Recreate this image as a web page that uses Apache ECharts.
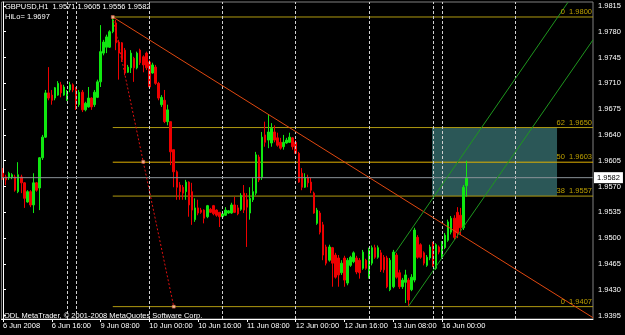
<!DOCTYPE html>
<html><head><meta charset="utf-8">
<script src="https://cdn.jsdelivr.net/npm/echarts@6/dist/echarts.min.js"></script>
<style>html,body{margin:0;padding:0;background:#000;}#c{width:625px;height:335px;}</style>
</head><body><div id="c"></div>
<script>
// ---- categories (H1 bars) ----
const days = ['6 Jun','9 Jun','10 Jun','11 Jun','12 Jun','13 Jun','16 Jun','17 Jun','18 Jun'];
const categories = [];
days.forEach(d => { for (let h = 0; h < 24; h++) categories.push(d + ' ' + String(h).padStart(2,'0') + ':00'); });
categories.length = 194;

// ---- x tick labels ----
const xTickIndex = [0, 16, 32, 48, 64, 80, 96, 112, 128, 144];
const xTickText = ['6 Jun 2008','6 Jun 16:00','9 Jun 08:00','10 Jun 00:00','10 Jun 16:00','11 Jun 08:00','12 Jun 00:00','12 Jun 16:00','13 Jun 08:00','16 Jun 00:00'];
// ---- y tick labels ----
const yTicks = [1.9815,1.9780,1.9745,1.9710,1.9675,1.9640,1.9605,1.9570,1.9535,1.9500,1.9465,1.9430,1.9395];

// ---- candles [open, close, low, high] ----
const ohlc = [
[1.9588,1.9582,1.9579,1.9595],[1.9583,1.9579,1.9572,1.9586],[1.9582,1.9588,1.9579,1.9590],[1.9583,1.9586,1.9580,1.9588],
[1.9583,1.9565,1.9563,1.9586],[1.9563,1.9586,1.9561,1.9603],[1.9583,1.9575,1.9561,1.9586],[1.9575,1.9554,1.9541,1.9576],
[1.9549,1.9563,1.9548,1.9565],[1.9563,1.9545,1.9542,1.9565],[1.9545,1.9575,1.9534,1.9588],[1.9575,1.9565,1.9563,1.9576],
[1.9568,1.9609,1.9538,1.9610],[1.9609,1.9637,1.9606,1.9640],[1.9637,1.9697,1.9636,1.9701],[1.9697,1.9690,1.9687,1.9732],
[1.9694,1.9687,1.9681,1.9701],[1.9690,1.9704,1.9687,1.9705],[1.9694,1.9710,1.9693,1.9713],[1.9708,1.9697,1.9691,1.9712],
[1.9694,1.9705,1.9693,1.9708],[1.9687,1.9698,1.9686,1.9701],[1.9701,1.9708,1.9698,1.9712],[1.9708,1.9701,1.9698,1.9710],
[1.9704,1.9681,1.9674,1.9705],[1.9681,1.9698,1.9678,1.9701],[1.9698,1.9674,1.9671,1.9701],[1.9674,1.9683,1.9672,1.9685],
[1.9678,1.9690,1.9677,1.9705],[1.9690,1.9678,1.9674,1.9691],[1.9681,1.9698,1.9678,1.9701],[1.9691,1.9712,1.9690,1.9715],
[1.9712,1.9753,1.9705,1.9789],[1.9751,1.9766,1.9748,1.9769],[1.9759,1.9773,1.9751,1.9776],[1.9759,1.9780,1.9758,1.9782],
[1.9780,1.9796,1.9778,1.9800],[1.9792,1.9765,1.9755,1.9796],[1.9766,1.9751,1.9715,1.9769],[1.9765,1.9742,1.9739,1.9766],
[1.9755,1.9724,1.9721,1.9758],[1.9725,1.9732,1.9724,1.9735],[1.9731,1.9751,1.9724,1.9755],[1.9744,1.9731,1.9712,1.9746],
[1.9731,1.9751,1.9729,1.9753],[1.9755,1.9738,1.9735,1.9757],[1.9746,1.9735,1.9725,1.9748],[1.9751,1.9731,1.9728,1.9753],
[1.9739,1.9705,1.9705,1.9742],[1.9724,1.9735,1.9723,1.9738],[1.9732,1.9710,1.9708,1.9735],[1.9710,1.9690,1.9687,1.9712],
[1.9681,1.9691,1.9678,1.9694],[1.9687,1.9658,1.9656,1.9701],[1.9658,1.9674,1.9653,1.9681],[1.9658,1.9617,1.9599,1.9658],
[1.9620,1.9590,1.9569,1.9620],[1.9590,1.9569,1.9552,1.9592],[1.9572,1.9563,1.9552,1.9576],[1.9569,1.9561,1.9552,1.9572],
[1.9563,1.9576,1.9552,1.9579],[1.9576,1.9545,1.9529,1.9577],[1.9563,1.9538,1.9518,1.9575],[1.9525,1.9541,1.9522,1.9554],
[1.9541,1.9534,1.9531,1.9552],[1.9538,1.9535,1.9533,1.9541],[1.9538,1.9527,1.9520,1.9539],[1.9529,1.9544,1.9527,1.9545],
[1.9539,1.9535,1.9534,1.9541],[1.9544,1.9533,1.9531,1.9545],[1.9538,1.9531,1.9529,1.9539],[1.9535,1.9529,1.9515,1.9535],
[1.9529,1.9533,1.9527,1.9535],[1.9531,1.9538,1.9530,1.9542],[1.9534,1.9537,1.9533,1.9538],[1.9534,1.9545,1.9533,1.9548],
[1.9545,1.9535,1.9534,1.9556],[1.9541,1.9533,1.9531,1.9545],[1.9539,1.9558,1.9537,1.9561],[1.9561,1.9538,1.9534,1.9572],
[1.9552,1.9542,1.9488,1.9561],[1.9534,1.9554,1.9525,1.9569],[1.9552,1.9563,1.9549,1.9582],[1.9561,1.9613,1.9558,1.9617],
[1.9610,1.9579,1.9576,1.9613],[1.9582,1.9637,1.9579,1.9644],[1.9640,1.9630,1.9624,1.9658],[1.9633,1.9644,1.9622,1.9667],
[1.9629,1.9649,1.9624,1.9656],[1.9644,1.9633,1.9630,1.9653],[1.9636,1.9626,1.9624,1.9643],[1.9630,1.9622,1.9620,1.9636],
[1.9624,1.9630,1.9620,1.9640],[1.9629,1.9633,1.9628,1.9636],[1.9630,1.9637,1.9629,1.9643],[1.9636,1.9624,1.9620,1.9637],
[1.9630,1.9615,1.9614,1.9633],[1.9615,1.9576,1.9575,1.9617],[1.9588,1.9569,1.9565,1.9595],[1.9569,1.9582,1.9568,1.9588],
[1.9582,1.9575,1.9569,1.9586],[1.9576,1.9565,1.9561,1.9582],[1.9561,1.9534,1.9533,1.9563],[1.9520,1.9538,1.9518,1.9541],
[1.9534,1.9508,1.9505,1.9537],[1.9518,1.9477,1.9470,1.9522],[1.9488,1.9466,1.9463,1.9491],[1.9470,1.9488,1.9468,1.9491],
[1.9487,1.9466,1.9434,1.9488],[1.9477,1.9447,1.9445,1.9480],[1.9473,1.9450,1.9434,1.9477],[1.9453,1.9466,1.9450,1.9470],
[1.9473,1.9443,1.9434,1.9476],[1.9439,1.9470,1.9436,1.9473],[1.9463,1.9474,1.9461,1.9476],[1.9468,1.9480,1.9466,1.9482],
[1.9473,1.9454,1.9451,1.9476],[1.9470,1.9453,1.9445,1.9473],[1.9459,1.9481,1.9457,1.9484],[1.9470,1.9459,1.9457,1.9472],
[1.9447,1.9484,1.9445,1.9487],[1.9466,1.9487,1.9463,1.9490],[1.9487,1.9474,1.9472,1.9491],[1.9474,1.9487,1.9472,1.9490],
[1.9480,1.9457,1.9454,1.9484],[1.9474,1.9457,1.9453,1.9477],[1.9473,1.9434,1.9432,1.9476],[1.9430,1.9470,1.9428,1.9473],
[1.9434,1.9481,1.9432,1.9484],[1.9477,1.9447,1.9445,1.9480],[1.9453,1.9434,1.9431,1.9457],[1.9434,1.9443,1.9431,1.9446],
[1.9440,1.9450,1.9412,1.9457],[1.9443,1.9416,1.9407,1.9446],[1.9430,1.9447,1.9428,1.9451],[1.9443,1.9511,1.9440,1.9514],
[1.9501,1.9474,1.9472,1.9504],[1.9491,1.9474,1.9472,1.9493],[1.9480,1.9466,1.9463,1.9482],[1.9463,1.9474,1.9461,1.9477],
[1.9473,1.9488,1.9470,1.9491],[1.9493,1.9463,1.9461,1.9495],[1.9459,1.9491,1.9457,1.9493],[1.9488,1.9481,1.9478,1.9490],
[1.9474,1.9493,1.9472,1.9496],[1.9487,1.9504,1.9485,1.9507],[1.9497,1.9522,1.9495,1.9525],[1.9508,1.9527,1.9505,1.9530],
[1.9527,1.9501,1.9498,1.9531],[1.9535,1.9507,1.9500,1.9542],[1.9531,1.9514,1.9504,1.9541],[1.9514,1.9569,1.9511,1.9572],
[1.9571,1.9582,1.9556,1.9605]
];

// ---- objects drawn on chart (bar index, price) ----
const separators = [21, 24, 48, 72, 96, 120, 141, 144, 168];
const fibLevels = [1.9800, 1.9650, 1.9603, 1.9557, 1.9407];
const fibPct = ['0', '62', '50', '38', '0'];
const fibStart = 36;
const fibAnchors = [[36, 1.9800], [46, 1.96035], [56, 1.9407]];
const trendLine = [[36, 1.9800], [193.5, 1.9392]];
const channelUpper = [[128.6, 1.9480], [185.3, 1.9820]];
const channelLower = [[132.9, 1.9407], [193.5, 1.9769]];
const rectX = [140.7, 181.7];
const rectY = [1.9557, 1.9650];
const lastPrice = 1.9582;
const header = 'GBPUSD,H1  1.9571 1.9605 1.9556 1.9582';
const hiLo = 'HiLo= 1.9697';
const copyright = 'ODL MetaTrader, \u00a9 2001-2008 MetaQuotes Software Corp.';

const FONT = 'Liberation Sans, Arial, sans-serif';
const N = categories.length;
const tickSet = new Set(xTickIndex);
const tickMap = {}; xTickIndex.forEach((k, j) => tickMap[k] = xTickText[j]);

const chart = echarts.init(document.getElementById('c'), null, {renderer: 'canvas'});
const fibColors = ['#b09a10', '#b09a10', '#e0b000', '#b09a10', '#b09a10'];

const series = [];
// rectangle
series.push({
  type: 'line', xAxisIndex: 1, data: [], silent: true, z: 1,
  markArea: { silent: true, itemStyle: { color: '#2b5757' },
    data: [[{ coord: [rectX[0], rectY[1]] }, { coord: [rectX[1], rectY[0]] }]] }
});
// separators
series.push({
  type: 'line', xAxisIndex: 1, data: [], silent: true, z: 2,
  markLine: { silent: true, symbol: 'none', label: { show: false },
    lineStyle: { color: '#d0d0d0', type: [3, 2], width: 1 },
    data: separators.map(s => ({ xAxis: s })) }
});
// fib levels
fibLevels.forEach((lv, k) => {
  series.push({ type: 'line', xAxisIndex: 1, z: 3, silent: true, symbol: 'none',
    lineStyle: { color: fibColors[k], width: 1 },
    data: [[fibStart, lv], [N - 0.5, lv]] });
});
// candles
series.push({
  type: 'candlestick', xAxisIndex: 0, z: 4, barWidth: 2,
  itemStyle: { color: '#10e810', color0: '#ee0000', borderColor: '#10e810', borderColor0: '#ee0000', borderWidth: 1 },
  data: ohlc
});
// current price line
series.push({ type: 'line', xAxisIndex: 1, z: 5, silent: true, symbol: 'none',
  lineStyle: { color: '#8a9298', width: 1 },
  data: [[-0.5, lastPrice], [N - 0.5, lastPrice]],
  endLabel: { show: true, formatter: lastPrice.toFixed(4), backgroundColor: '#ffffff', color: '#000000',
    fontFamily: FONT, fontSize: 7.5, padding: [2, 3, 1, 3], distance: 1 } });
// trend line
series.push({ type: 'line', xAxisIndex: 1, z: 6, silent: true, symbol: 'none',
  lineStyle: { color: '#e04810', width: 1 }, data: trendLine });
// fib dotted base
series.push({ type: 'line', xAxisIndex: 1, z: 6, silent: true, symbol: 'none',
  lineStyle: { color: '#e01010', width: 1, type: [2, 2] }, data: [fibAnchors[0], fibAnchors[2]] });
// channel
series.push({ type: 'line', xAxisIndex: 1, z: 6, silent: true, symbol: 'none',
  lineStyle: { color: '#1e961e', width: 1 }, data: channelUpper });
series.push({ type: 'line', xAxisIndex: 1, z: 6, silent: true, symbol: 'none',
  lineStyle: { color: '#1e961e', width: 1 }, data: channelLower });
// anchor handles
series.push({ type: 'scatter', xAxisIndex: 1, z: 7, silent: true, symbol: 'rect', symbolSize: 3,
  itemStyle: { color: '#ffd0b0', borderColor: '#ff6040', borderWidth: 0.5 }, data: fibAnchors });
// fib labels
series.push({ type: 'scatter', xAxisIndex: 1, z: 7, silent: true, symbolSize: 0,
  data: fibLevels.map((lv, k) => ({ value: [N - 0.5, lv], name: fibPct[k] })),
  label: { show: true, position: 'left', distance: 1, offset: [0, -5],
    formatter: p => p.name + '  ' + p.value[1].toFixed(4),
    color: '#e8c400', fontFamily: FONT, fontSize: 7.5 } });

chart.setOption({
  animation: false,
  backgroundColor: '#000000',
  grid: { left: 1, right: 32, top: 2, bottom: 16, show: true, borderColor: '#808080', borderWidth: 1 },
  xAxis: [
    { type: 'category', data: categories, boundaryGap: true,
      axisLine: { lineStyle: { color: '#ffffff', width: 1 } },
      axisTick: { show: true, alignWithLabel: true, length: 3, interval: (i) => tickSet.has(i), lineStyle: { color: '#ffffff' } },
      axisLabel: { interval: (i) => tickSet.has(i), formatter: (v, i) => tickMap[i] || '', align: 'left',
        color: '#ffffff', fontFamily: FONT, fontSize: 7.5, margin: 3 },
      splitLine: { show: false } },
    { type: 'value', min: -0.5, max: N - 0.5, show: false }
  ],
  yAxis: { type: 'value', position: 'right', min: 1.939023, max: 1.982035, scale: true,
    axisLine: { show: true, lineStyle: { color: '#ffffff' } },
    axisTick: { show: true, length: 3, customValues: yTicks, lineStyle: { color: '#ffffff' } },
    axisLabel: { customValues: yTicks, formatter: v => v.toFixed(4), color: '#ffffff', fontFamily: FONT, fontSize: 7.5, margin: 5 },
    splitLine: { show: false } },
  graphic: [
    { type: 'text', left: 5, top: 3, style: { text: header, fill: '#ffffff', font: '7.5px ' + FONT } },
    { type: 'text', left: 5, top: 13, style: { text: hiLo, fill: '#ffffff', font: '7.5px ' + FONT } },
    { type: 'text', left: 4, top: 312, style: { text: copyright, fill: '#ffffff', font: '7.5px ' + FONT } }
  ],
  series: series
});
</script></body></html>
